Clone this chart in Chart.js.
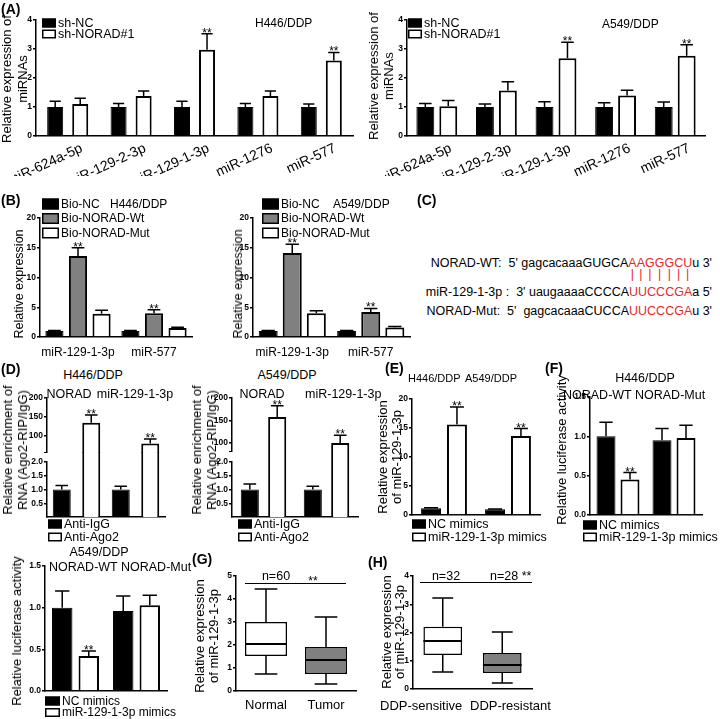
<!DOCTYPE html>
<html>
<head>
<meta charset="utf-8">
<script src="https://cdn.jsdelivr.net/npm/chart.js@4.4.1/dist/chart.umd.min.js"></script>
<style>
  body { margin: 0; width: 720px; height: 719px; position: relative; background: #fff; overflow: hidden;
         font-family: Arial, 'Liberation Sans', sans-serif; color: #000; }
  canvas { position: absolute; }
  .t { position: absolute; white-space: nowrap; line-height: 1; }
  .seq { position: absolute; right: 8px; white-space: pre; font-size: 12.5px; line-height: 14px; }
  .r { color: #e32b2b; }
  .p { position: relative; color: transparent; }
  .p::after { content: '|'; color: #e32b2b; position: absolute; left: 50%; top: 0; transform: translateX(-50%); }
  .hl { position: absolute; height: 0; border-top: 1.5px solid #000; }
</style>
</head>
<body>
<script>
// ---------- data ----------
// (A) miRNA expression after NORAD knockdown
const mirNames = ['miR-624a-5p', 'miR-129-2-3p', 'miR-129-1-3p', 'miR-1276', 'miR-577'];
const aTicks = [0, 1, 2, 3, 4];
const h446ShNC = [1, 1, 1, 1, 1];
const h446ShNCSd = [1.2, 1.12, 1.2, 1.12, 1.1];
const h446ShNorad = [1.1, 1.38, 2.97, 1.38, 2.6];
const h446ShNoradSd = [1.3, 1.55, 3.53, 1.55, 2.88];
const a549ShNC = [1, 1, 1, 1, 1];
const a549ShNCSd = [1.12, 1.1, 1.18, 1.15, 1.17];
const a549ShNorad = [1.03, 1.57, 2.68, 1.4, 2.77];
const a549ShNoradSd = [1.22, 1.87, 3.23, 1.58, 3.15];
const shStars = [0, 0, 1, 0, 1];

// (B) biotin pull-down
const pullNames = ['miR-129-1-3p', 'miR-577'];
const bTicks = [0, 5, 10, 15, 20];
const h446BioNC = [1, 1], h446BioNCSd = [1.1, 1.1];
const h446BioWt = [13.6, 4.0], h446BioWtSd = [15.0, 4.6];
const h446BioMut = [3.9, 1.5], h446BioMutSd = [4.5, 1.65];
const a549BioNC = [1, 1], a549BioNCSd = [1.1, 1.1];
const a549BioWt = [14.1, 4.2], a549BioWtSd = [15.6, 4.8];
const a549BioMut = [4.0, 1.6], a549BioMutSd = [4.4, 1.75];
const bioStars = [1, 1];

// (D) Ago2 RIP
const ripNames = ['NORAD', 'miR-129-1-3p'];
const ripUpperTicks = [100, 150, 200];
const ripLowerTicks = [0.5, 1, 1.5, 2];
const h446IgG = [1, 1], h446IgGSd = [1.15, 1.12];
const h446Ago2 = [135, 80], h446Ago2Sd = [155, 92];
const a549IgG = [1, 1], a549IgGSd = [1.2, 1.12];
const a549Ago2 = [158, 100], a549Ago2Sd = [183, 117];
const ripStars = [1, 1];

// (E) mimic transfection
const cellNames = ['H446/DDP', 'A549/DDP'];
const eTicks = [0, 5, 10, 15, 20];
const ncMimic = [1.15, 1.0], ncMimicSd = [1.25, 1.05];
const mirMimic = [15.6, 13.6], mirMimicSd = [18.6, 14.9];

// (F) luciferase reporter
const reporterNames = ['NORAD-WT', 'NORAD-Mut'];
const fTicks = [0, 0.5, 1, 1.5];
const h446LucNC = [1.0, 0.95], h446LucNCSd = [1.18, 1.1];
const h446LucMir = [0.45, 0.98], h446LucMirSd = [0.54, 1.14];
const a549LucNC = [1.0, 0.96], a549LucNCSd = [1.2, 1.14];
const a549LucMir = [0.42, 1.03], a549LucMirSd = [0.48, 1.15];
const lucStars = [1, 0];

// (G) tissue, box plots
const tissueNames = ['Normal', 'Tumor'];
const gTicks = [0, 1, 2, 3, 4, 5];
const gMin = [0.74, 0.30], gQ1 = [1.52, 0.74], gMed = [2.04, 1.35], gQ3 = [3.0, 1.91], gMax = [4.43, 3.22];

// (H) DDP sensitivity, box plots
const phenoNames = ['DDP-sensitive', 'DDP-resistant'];
const hTicks = [0, 1, 2, 3, 4];
const hMin = [0.6, 0.21], hQ1 = [1.2, 0.57], hMed = [1.7, 0.85], hQ3 = [2.2, 1.27], hMax = [3.22, 2.02];

// ---------- plugins ----------
Chart.defaults.font.family = "Arial, 'Liberation Sans', sans-serif";
Chart.defaults.color = '#000';

const errPlugin = {
  id: 'errbars',
  afterDatasetsDraw(chart) {
    const ctx = chart.ctx, ys = chart.scales.y;
    chart.data.datasets.forEach((ds, i) => {
      if (!ds.err) return;
      chart.getDatasetMeta(i).data.forEach((el, j) => {
        const v = ds.data[j], top = ds.err[j];
        if (v < ys.min || v > ys.max || top > ys.max) return;
        const x = el.x, p = ys.getPixelForValue(top), hw = el.width * 0.35;
        ctx.save();
        ctx.strokeStyle = '#000';
        ctx.lineWidth = 1.5;
        ctx.beginPath();
        ctx.moveTo(x, el.y); ctx.lineTo(x, p);
        ctx.moveTo(x - hw, p); ctx.lineTo(x + hw, p);
        ctx.stroke();
        if (ds.stars && ds.stars[j]) {
          ctx.fillStyle = '#000';
          ctx.font = "12px Arial, 'Liberation Sans', sans-serif";
          ctx.textAlign = 'center';
          ctx.fillText('**', x, p + 3);
        }
        ctx.restore();
      });
    });
  }
};

const whiskerPlugin = {
  id: 'whisk',
  afterDatasetsDraw(chart) {
    const ctx = chart.ctx, ys = chart.scales.y;
    chart.data.datasets.forEach((ds, i) => {
      if (!ds.whisk) return;
      chart.getDatasetMeta(i).data.forEach((el, j) => {
        const x = el.x, w = el.width;
        const [q1, q3] = ds.data[j];
        const pLo = ys.getPixelForValue(ds.whisk.lo[j]), pHi = ys.getPixelForValue(ds.whisk.hi[j]);
        const p1 = ys.getPixelForValue(q1), p3 = ys.getPixelForValue(q3), pm = ys.getPixelForValue(ds.whisk.med[j]);
        ctx.save();
        ctx.strokeStyle = '#000';
        ctx.lineWidth = 1.5;
        ctx.beginPath();
        ctx.moveTo(x, p3); ctx.lineTo(x, pHi);
        ctx.moveTo(x - w * 0.27, pHi); ctx.lineTo(x + w * 0.27, pHi);
        ctx.moveTo(x, p1); ctx.lineTo(x, pLo);
        ctx.moveTo(x - w * 0.27, pLo); ctx.lineTo(x + w * 0.27, pLo);
        ctx.stroke();
        ctx.lineWidth = 2;
        ctx.beginPath();
        ctx.moveTo(x - w / 2, pm); ctx.lineTo(x + w / 2, pm);
        ctx.stroke();
        ctx.restore();
      });
    });
  }
};

// legend drawn at page coords (boxes stacked)
const keyPlugin = {
  id: 'key',
  afterDraw(chart, args, opts) {
    if (opts.x == null) return;
    const ctx = chart.ctx;
    const L = parseFloat(chart.canvas.style.left), T = parseFloat(chart.canvas.style.top);
    const bw = opts.bw || 14, bh = opts.bh || 9;
    ctx.save();
    ctx.font = (opts.size || 12.5) + "px Arial, 'Liberation Sans', sans-serif";
    ctx.textBaseline = 'middle';
    chart.data.datasets.forEach((ds, i) => {
      const x = opts.x - L, y = opts.y + i * opts.dy - T;
      ctx.fillStyle = ds.backgroundColor;
      ctx.fillRect(x, y - bh / 2, bw, bh);
      ctx.strokeStyle = '#000';
      ctx.lineWidth = 1.5;
      ctx.strokeRect(x + 0.75, y - bh / 2 + 0.75, bw - 1.5, bh - 1.5);
      ctx.fillStyle = '#000';
      ctx.fillText(ds.label, x + bw + 2, y + 0.5);
    });
    ctx.restore();
  }
};

Chart.register(errPlugin, whiskerPlugin, keyPlugin);

// ---------- helpers ----------
function bars(label, data, sd, fill, stars) {
  return { label, data, err: sd, stars, backgroundColor: fill, borderColor: '#000',
           borderWidth: fill === '#000' ? 1 : 2 };
}

function plot(o) {
  const yW = o.yW || 22;
  const L = o.x0 - yW, T = o.y0 - o.pt;
  const W = o.x1 + o.pr - L, H = o.y1 + o.xH - T;
  const cv = document.createElement('canvas');
  cv.width = W; cv.height = H;
  cv.style.left = L + 'px'; cv.style.top = T + 'px';
  document.body.appendChild(cv);
  o.sets.forEach(s => { s.clip = o.clip || 0; });
  return new Chart(cv, {
    type: 'bar',
    data: { labels: o.labels, datasets: o.sets },
    options: {
      responsive: false,
      animation: false,
      layout: { padding: { left: 0, top: o.pt, right: o.pr, bottom: 0 } },
      plugins: { legend: { display: false }, tooltip: { enabled: false }, key: o.key || {} },
      datasets: { bar: { categoryPercentage: o.cat, barPercentage: o.bar } },
      scales: {
        x: {
          display: o.xShow !== false,
          grid: { display: false, drawTicks: false },
          border: { color: '#000', width: 1.5 },
          ticks: Object.assign({ display: false, color: '#000', font: { size: 13 }, autoSkip: false,
                                 maxRotation: 0, minRotation: 0 }, o.xTicks || {}),
          afterFit: s => { s.height = o.xH; s.paddingLeft = 0; s.paddingRight = 0; }
        },
        y: {
          min: o.min, max: o.max,
          afterBuildTicks: s => { s.ticks = o.ticks.map(v => ({ value: v })); },
          grid: { drawOnChartArea: false, tickLength: 3, color: '#000', lineWidth: 1.5 },
          border: { color: '#000', width: 1.5 },
          ticks: { color: '#000', padding: 1, font: { size: 8.5, weight: 'bold' }, callback: o.fmt || (v => v) },
          afterFit: s => { s.width = yW; s.paddingTop = 0; s.paddingBottom = 0; }
        }
      }
    }
  });
}

function txt(s, x, y, size, o = {}) {
  const d = document.createElement('div');
  d.className = 't';
  d.textContent = s;
  d.style.fontSize = size + 'px';
  d.style.left = x + 'px';
  d.style.top = y + 'px';
  d.style.transform = `translate(${o.c ? -50 : 0}%, -50%)`;
  if (o.b) d.style.fontWeight = 'bold';
  document.body.appendChild(d);
}

// rotated axis title, cx/cy = centre of the text block
function vtitle(lines, cx, cy, size, lh) {
  const d = document.createElement('div');
  d.className = 't';
  d.innerHTML = [].concat(lines).join('<br>');
  d.style.cssText += `font-size:${size}px;line-height:${lh}px;text-align:center;left:${cx}px;top:${cy}px;` +
                     'transform:translate(-50%,-50%) rotate(-90deg);';
  document.body.appendChild(d);
}

function hline(x0, x1, y) {
  const d = document.createElement('div');
  d.className = 'hl';
  d.style.left = x0 + 'px'; d.style.width = (x1 - x0) + 'px'; d.style.top = y + 'px';
  document.body.appendChild(d);
}

const oneDec = v => v.toFixed(1);

// ---------- (A) ----------
const aX = { display: true, font: { size: 14 }, minRotation: 25, maxRotation: 25, padding: 4, labelOffset: 14 };
plot({ x0: 36, x1: 353, y0: 20, y1: 136, pt: 20, pr: 5, xH: 40,
       labels: mirNames, min: 0, max: 4, ticks: aTicks, cat: 0.79, bar: 0.64, xTicks: aX,
       key: { x: 42, y: 23, dy: 11, size: 12.5, bw: 14, bh: 9 },
       sets: [bars('sh-NC', h446ShNC, h446ShNCSd, '#000'),
              bars('sh-NORAD#1', h446ShNorad, h446ShNoradSd, '#fff', shStars)] });
plot({ x0: 407, x1: 705, y0: 20, y1: 136, pt: 20, pr: 5, xH: 40,
       labels: mirNames, min: 0, max: 4, ticks: aTicks, cat: 0.77, bar: 0.78, xTicks: aX,
       key: { x: 408, y: 23, dy: 11, size: 12.5, bw: 14, bh: 9 },
       sets: [bars('sh-NC', a549ShNC, a549ShNCSd, '#000'),
              bars('sh-NORAD#1', a549ShNorad, a549ShNoradSd, '#fff', shStars)] });
vtitle(['Relative expression of', 'miRNAs'], 15, 79, 13, 16);
vtitle(['Relative expression of', 'miRNAs'], 381, 76, 13, 15);
txt('(A)', 1, 9, 14, { b: 1 });
txt('H446/DDP', 255, 23, 12);
txt('A549/DDP', 602, 24, 12);

// ---------- (B) ----------
const bX = { display: true, font: { size: 12 }, padding: 8 };
plot({ x0: 40, x1: 192, y0: 218, y1: 337, pt: 26, pr: 5, xH: 25,
       labels: pullNames, min: 0, max: 20, ticks: bTicks, cat: 0.93, bar: 0.77, xTicks: bX,
       key: { x: 42, y: 204, dy: 14.5, size: 12, bw: 17, bh: 11 },
       sets: [bars('Bio-NC', h446BioNC, h446BioNCSd, '#000'),
              bars('Bio-NORAD-Wt', h446BioWt, h446BioWtSd, '#808080', bioStars),
              bars('Bio-NORAD-Mut', h446BioMut, h446BioMutSd, '#fff')] });
plot({ x0: 253, x1: 410, y0: 218, y1: 337, pt: 26, pr: 5, xH: 25,
       labels: pullNames, min: 0, max: 20, ticks: bTicks, cat: 0.92, bar: 0.79, xTicks: bX,
       key: { x: 262, y: 204, dy: 14.5, size: 12, bw: 17, bh: 11 },
       sets: [bars('Bio-NC', a549BioNC, a549BioNCSd, '#000'),
              bars('Bio-NORAD-Wt', a549BioWt, a549BioWtSd, '#808080', bioStars),
              bars('Bio-NORAD-Mut', a549BioMut, a549BioMutSd, '#fff')] });
vtitle('Relative expression', 19, 284, 12.5, 14);
vtitle('Relative expression', 238, 284, 12.5, 14);
txt('(B)', 1, 200, 14, { b: 1 });
txt('H446/DDP', 110, 204, 12);
txt('A549/DDP', 333, 204, 12);

// ---------- (C) ----------
txt('(C)', 417, 200, 14, { b: 1 });
const seqLines = [
  { y: 263, html: "NORAD-WT:  5' gagcacaaaGUGCA<span class=r>AAGGGCU</span>u 3'" },
  { y: 274, html: "<span style='color:transparent'>NORAD-WT:  5' gagcacaaaGUGCA</span>" +
                  'AAGGGCU'.split('').map(c => `<span class=p>${c}</span>`).join('') +
                  "<span style='color:transparent'>u 3'</span>" },
  { y: 292, html: "miR-129-1-3p :  3' uaugaaaaCCCCA<span class=r>UUCCCGA</span>a 5'" },
  { y: 311, html: "NORAD-Mut:  5'  gagcacaaaCUCCA<span class=r>UUCCCGA</span>u 3'" }
];
seqLines.forEach(l => {
  const d = document.createElement('div');
  d.className = 'seq';
  d.style.top = (l.y - 7) + 'px';
  d.innerHTML = l.html;
  document.body.appendChild(d);
});

// ---------- (D) ----------
const upFmt = v => (ripUpperTicks.includes(v) ? v : '');
plot({ x0: 47, x1: 165, y0: 398, y1: 453, pt: 8, pr: 4, xH: 0, xShow: false,
       labels: ripNames, min: 55, max: 200, ticks: [55].concat(ripUpperTicks), fmt: upFmt, cat: 1, bar: 0.61,
       sets: [bars('Anti-IgG', h446IgG, h446IgGSd, '#000'),
              bars('Anti-Ago2', h446Ago2, h446Ago2Sd, '#fff', ripStars)] });
plot({ x0: 47, x1: 165, y0: 462, y1: 517, pt: 12, pr: 4, xH: 30,
       labels: ripNames, min: 0, max: 2, ticks: ripLowerTicks, fmt: oneDec, cat: 1, bar: 0.61,
       clip: { left: 0, top: 10, right: 0, bottom: 0 },
       key: { x: 48, y: 524, dy: 13, size: 12.5, bw: 14, bh: 9 },
       sets: [bars('Anti-IgG', h446IgG, h446IgGSd, '#000'),
              bars('Anti-Ago2', h446Ago2, h446Ago2Sd, '#fff', ripStars)] });
plot({ x0: 232, x1: 358, y0: 398, y1: 452, pt: 8, pr: 4, xH: 0, xShow: false,
       labels: ripNames, min: 80, max: 200, ticks: [80].concat(ripUpperTicks), fmt: upFmt, cat: 0.87, bar: 0.66,
       sets: [bars('Anti-IgG', a549IgG, a549IgGSd, '#000'),
              bars('Anti-Ago2', a549Ago2, a549Ago2Sd, '#fff', ripStars)] });
plot({ x0: 232, x1: 358, y0: 462, y1: 517, pt: 12, pr: 4, xH: 30,
       labels: ripNames, min: 0, max: 2, ticks: ripLowerTicks, fmt: oneDec, cat: 0.87, bar: 0.66,
       clip: { left: 0, top: 10, right: 0, bottom: 0 },
       key: { x: 238, y: 524, dy: 13, size: 12.5, bw: 14, bh: 9 },
       sets: [bars('Anti-IgG', a549IgG, a549IgGSd, '#000'),
              bars('Anti-Ago2', a549Ago2, a549Ago2Sd, '#fff', ripStars)] });
txt('(D)', 1, 369, 14, { b: 1 });
txt('H446/DDP', 93, 375, 12.5, { c: 1 });
txt(ripNames[0], 69, 394, 12.5, { c: 1 });
txt(ripNames[1], 135, 394, 12.5, { c: 1 });
txt('A549/DDP', 287, 375, 12.5, { c: 1 });
txt(ripNames[0], 262, 394, 12.5, { c: 1 });
txt(ripNames[1], 305, 394, 12.5);
vtitle(['Relative enrichment of', 'RNA (Ago2-RIP/IgG)'], 15, 450, 13, 15);
vtitle(['Relative enrichment of', 'RNA (Ago2-RIP/IgG)'], 204, 450, 13, 15);

// ---------- (E) ----------
plot({ x0: 412, x1: 540, y0: 399, y1: 515, pt: 8, pr: 34, xH: 30,
       labels: cellNames, min: 0, max: 20, ticks: eTicks, cat: 0.81, bar: 0.77,
       key: { x: 412, y: 524, dy: 13, size: 12.5, bw: 14, bh: 9 },
       sets: [bars('NC mimics', ncMimic, ncMimicSd, '#000'),
              bars('miR-129-1-3p mimics', mirMimic, mirMimicSd, '#fff', [1, 1])] });
vtitle(['Relative expression', 'of miR-129-1-3p'], 390, 457, 13, 14);
txt('(E)', 385, 368, 14, { b: 1 });
txt(cellNames[0], 408, 378, 11);
txt(cellNames[1], 465, 378, 11);

// ---------- (F) ----------
plot({ x0: 590, x1: 702, y0: 397, y1: 515, pt: 8, pr: 18, xH: 30,
       labels: reporterNames, min: 0, max: 1.5, ticks: fTicks, fmt: oneDec, cat: 0.857, bar: 0.79,
       key: { x: 583, y: 525, dy: 12, size: 12.5, bw: 14, bh: 9 },
       sets: [bars('NC mimics', h446LucNC, h446LucNCSd, '#000'),
              bars('miR-129-1-3p mimics', h446LucMir, h446LucMirSd, '#fff', lucStars)] });
vtitle('Relative luciferase activity', 562, 450, 13, 14);
txt('(F)', 545, 368, 14, { b: 1 });
txt('H446/DDP', 645, 378, 12.5, { c: 1 });
txt(reporterNames.join(' '), 563, 395, 12.5);

plot({ x0: 45, x1: 167, y0: 566, y1: 691, pt: 8, pr: 40, xH: 28,
       labels: reporterNames, min: 0, max: 1.5, ticks: fTicks, fmt: oneDec, cat: 0.87, bar: 0.77,
       key: { x: 45, y: 701, dy: 11.5, size: 12, bw: 15, bh: 9 },
       sets: [bars('NC mimics', a549LucNC, a549LucNCSd, '#000'),
              bars('miR-129-1-3p mimics', a549LucMir, a549LucMirSd, '#fff', lucStars)] });
vtitle('Relative luciferase activity', 17, 631, 13, 14);
txt('A549/DDP', 99, 552, 12.5, { c: 1 });
txt(reporterNames.join(' '), 49, 567, 12.5);

// ---------- (G) ----------
function boxSet(q1, q3, lo, med, hi, fills) {
  return { label: 'box', data: q1.map((v, i) => [v, q3[i]]), whisk: { lo, med, hi },
           backgroundColor: fills, borderColor: '#000', borderWidth: 1.5, borderSkipped: false };
}
plot({ x0: 236, x1: 356, y0: 576, y1: 691, pt: 8, pr: 4, xH: 28,
       labels: tissueNames, min: 0, max: 5, ticks: gTicks, cat: 1, bar: 0.7,
       xTicks: { display: true, font: { size: 13 }, padding: 7 },
       sets: [boxSet(gQ1, gQ3, gMin, gMed, gMax, ['#fff', '#808080'])] });
vtitle(['Relative expression', 'of miR-129-1-3p'], 207, 636, 13, 14);
txt('(G)', 192, 559, 14, { b: 1 });
hline(245, 346, 583);
txt('n=60', 276, 576, 12.5, { c: 1 });
txt('**', 313, 581, 12, { c: 1 });

// ---------- (H) ----------
plot({ x0: 413, x1: 532, y0: 576, y1: 689, pt: 8, pr: 4, xH: 30,
       labels: phenoNames, min: 0, max: 4, ticks: hTicks, cat: 1, bar: 0.65,
       sets: [boxSet(hQ1, hQ3, hMin, hMed, hMax, ['#fff', '#808080'])] });
vtitle(['Relative expression', 'of miR-129-1-3p'], 393, 632, 13, 13);
txt('(H)', 368, 562, 14, { b: 1 });
hline(420, 532, 582);
txt('n=32', 446, 576, 12.5, { c: 1 });
txt('n=28 **', 490, 576, 12.5);
[380, 470].forEach((x, i) => txt(phenoNames[i], x, 705, 13));
</script>
</body>
</html>
